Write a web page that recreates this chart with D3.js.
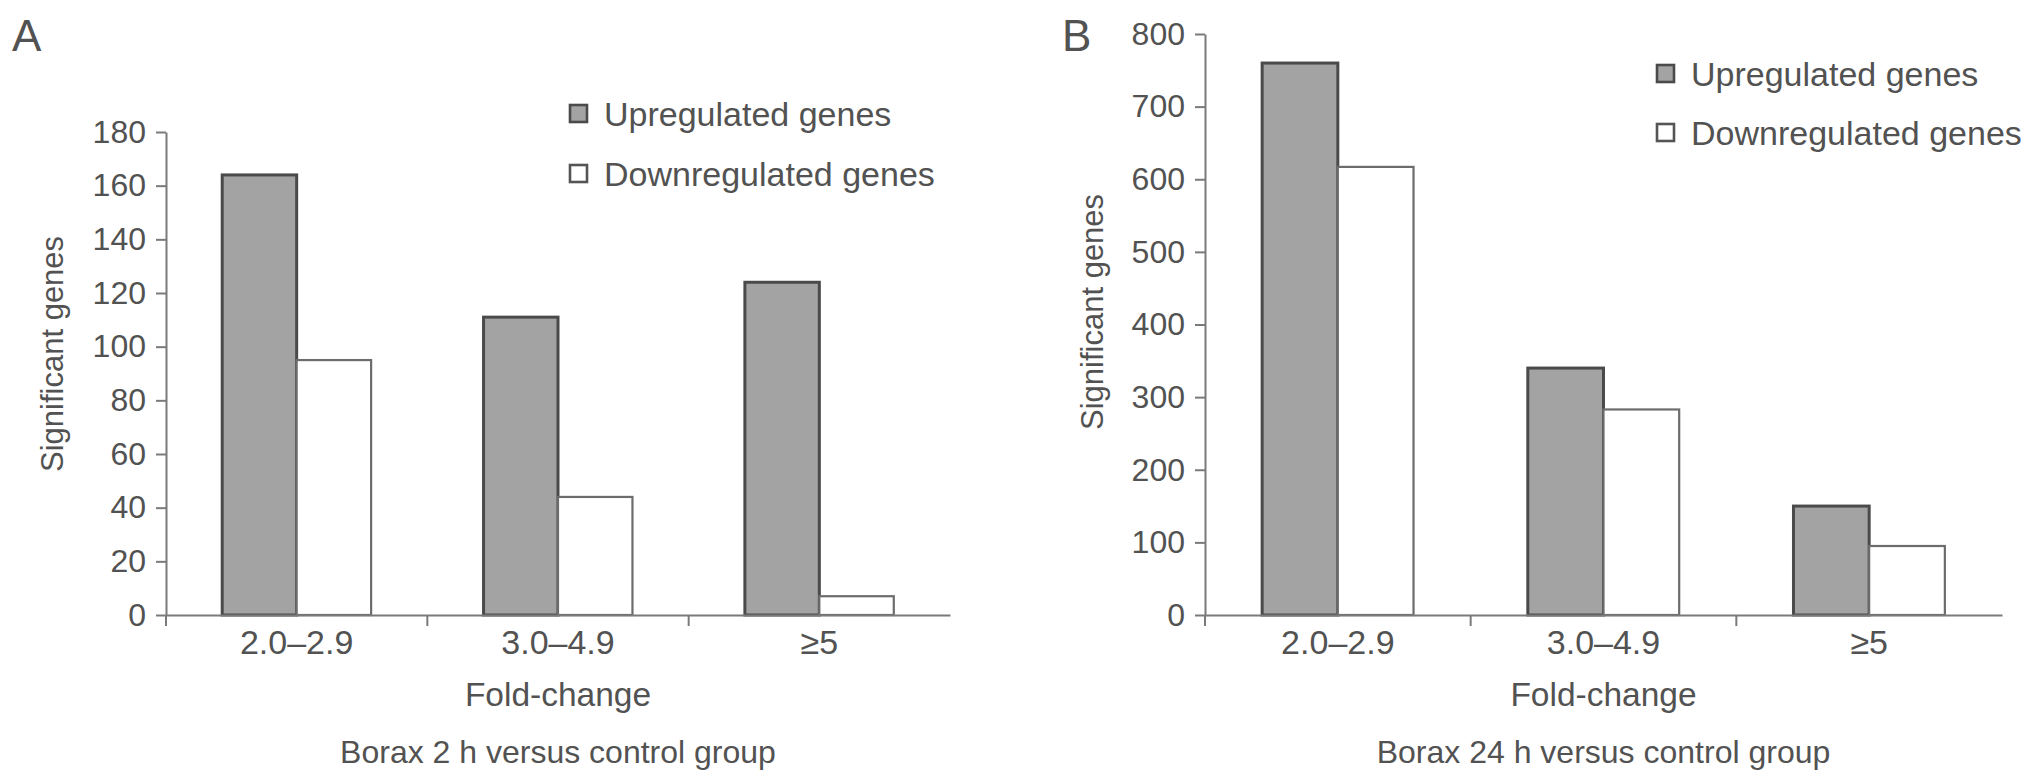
<!DOCTYPE html>
<html>
<head>
<meta charset="utf-8">
<script src="https://cdn.jsdelivr.net/npm/d3@7"></script>
<style>
  body { margin: 0; background: #fff; }
  text { font-family: "Liberation Sans", Arial, Helvetica, sans-serif; fill: #525252; }
</style>
</head>
<body>
<svg id="chart" width="2032" height="783"></svg>
<script>
// data
var categories = ["2.0–2.9", "3.0–4.9", "≥5"];
var seriesNames = ["Upregulated genes", "Downregulated genes"];
var upA = [164, 111, 124];
var downA = [95, 44, 7];
var upB = [760, 340, 150];
var downB = [617, 283, 95];
var ticksA = [0, 20, 40, 60, 80, 100, 120, 140, 160, 180];
var ticksB = [0, 100, 200, 300, 400, 500, 600, 700, 800];

var svg = d3.select("#chart");

function drawPanel(p) {
    var g = svg.append("g");

    var x = d3.scaleBand().domain(categories).range([p.left, p.right]);
    var xs = d3.scaleBand().domain(["up", "down"])
        .range([0, x.bandwidth()])
        .paddingOuter(0.755);
    var y = d3.scaleLinear().domain([0, p.max]).range([p.bottom, p.top]);

    // y axis
    var ya = g.append("g")
        .attr("transform", "translate(" + p.left + ",0)")
        .call(d3.axisLeft(y).tickValues(p.ticks).tickSize(10).tickSizeOuter(0).tickPadding(10));
    ya.selectAll("line, path").attr("stroke", "#7a7a7a").attr("stroke-width", 2);
    ya.selectAll("text").attr("font-size", 32).attr("fill", "#525252")
        .attr("font-family", "'Liberation Sans', Arial, sans-serif");

    // bars
    var rows = categories.map(function(c, i) {
        return { cat: c, up: p.up[i], down: p.down[i] };
    });
    g.selectAll("rect.up").data(rows).enter().append("rect")
        .attr("class", "up")
        .attr("x", function(d) { return x(d.cat) + xs("up"); })
        .attr("y", function(d) { return y(d.up); })
        .attr("width", xs.bandwidth())
        .attr("height", function(d) { return y(0) - y(d.up); })
        .attr("fill", "#a3a3a3")
        .attr("stroke", "#4a4a4a")
        .attr("stroke-width", 3);
    g.selectAll("rect.down").data(rows).enter().append("rect")
        .attr("class", "down")
        .attr("x", function(d) { return x(d.cat) + xs("down"); })
        .attr("y", function(d) { return y(d.down); })
        .attr("width", xs.bandwidth())
        .attr("height", function(d) { return y(0) - y(d.down); })
        .attr("fill", "#fff")
        .attr("stroke", "#6c6c6c")
        .attr("stroke-width", 2.2);

    // x axis: baseline, tick marks at the band boundaries, centred labels
    var xa = g.append("g")
        .attr("transform", "translate(0," + p.bottom + ")")
        .call(d3.axisBottom(x).tickSize(0).tickSizeOuter(0).tickPadding(15));
    xa.select(".domain").attr("stroke", "#7a7a7a").attr("stroke-width", 2);
    xa.selectAll("text").attr("font-size", 34).attr("fill", "#525252")
        .attr("font-family", "'Liberation Sans', Arial, sans-serif");
    g.selectAll("line.bound").data(categories).enter().append("line")
        .attr("class", "bound")
        .attr("x1", function(d) { return x(d); })
        .attr("x2", function(d) { return x(d); })
        .attr("y1", p.bottom)
        .attr("y2", p.bottom + 11)
        .attr("stroke", "#7a7a7a")
        .attr("stroke-width", 2);

    // axis titles
    var mid = (p.left + p.right) / 2;
    g.append("text")
        .attr("transform", "translate(" + p.ylabX + "," + p.ylabY + ") rotate(-90)")
        .attr("font-size", 31)
        .text("Significant genes");
    g.append("text").attr("x", mid).attr("y", 706)
        .attr("text-anchor", "middle").attr("font-size", 33.5)
        .text("Fold-change");
    g.append("text").attr("x", mid).attr("y", 763)
        .attr("text-anchor", "middle").attr("font-size", 32)
        .text(p.title);

    // panel letter
    g.append("text").attr("x", p.letterX).attr("y", 51)
        .attr("font-size", 44).attr("fill", "#333")
        .text(p.letter);

    // legend
    var leg = g.selectAll("g.leg").data(seriesNames).enter().append("g")
        .attr("class", "leg")
        .attr("transform", function(d, i) {
            return "translate(" + p.legX + "," + p.legY[i] + ")";
        });
    leg.append("rect")
        .attr("x", 0).attr("y", -9).attr("width", 17).attr("height", 17)
        .attr("fill", function(d, i) { return i === 0 ? "#a3a3a3" : "#fff"; })
        .attr("stroke", function(d, i) { return i === 0 ? "#4a4a4a" : "#555"; })
        .attr("stroke-width", 2.6);
    leg.append("text")
        .attr("x", 34).attr("y", 12)
        .attr("font-size", 34)
        .text(function(d) { return d; });
}

drawPanel({
    letter: "A", letterX: 12,
    left: 166, right: 950, bottom: 615, top: 132, max: 180,
    ticks: ticksA, up: upA, down: downA,
    ylabX: 63, ylabY: 472,
    legX: 570, legY: [114, 174],
    title: "Borax 2 h versus control group"
});

drawPanel({
    letter: "B", letterX: 1062,
    left: 1205, right: 2002, bottom: 615, top: 34, max: 800,
    ticks: ticksB, up: upB, down: downB,
    ylabX: 1103, ylabY: 430,
    legX: 1657, legY: [74, 133],
    title: "Borax 24 h versus control group"
});
</script>
</body>
</html>
